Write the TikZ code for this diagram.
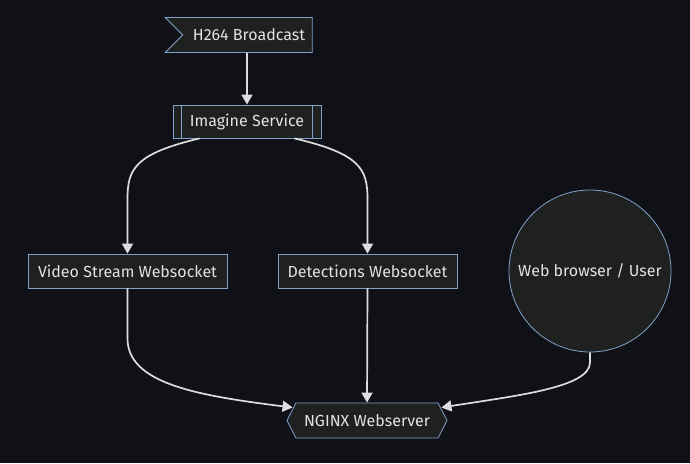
\documentclass[tikz,border=0pt]{standalone}
\usepackage{fontspec}
\setmainfont{Fira Sans}
\usetikzlibrary{shapes.symbols,arrows.meta,calc}
\definecolor{bg}{HTML}{0F1117}
\definecolor{nfill}{HTML}{1F2020}
\definecolor{nborder}{HTML}{7FA3C8}
\definecolor{ntext}{HTML}{E2E2E2}
\definecolor{edgecol}{HTML}{DDDDDD}
\begin{document}
\begin{tikzpicture}[x=1pt,y=-1pt,
  base/.style={draw=nborder,fill=nfill,text=ntext,line width=0.8pt,font=\fontsize{16}{19}\selectfont,inner sep=0pt,minimum height=35pt},
  boxnode/.style={base,rectangle},
  flagnode/.style={base,signal,signal from=west,signal to=nothing,signal pointer angle=90,minimum width=147pt},
  hexnode/.style={base,signal,signal to=east and west,signal pointer angle=126,minimum width=160pt},
  circnode/.style={base,circle,minimum size=162pt},
  edge/.style={draw=edgecol,line width=1.7pt,-{Triangle[length=10pt,width=11pt]}}]
\fill[bg] (0,0) rectangle (690,463);
\useasboundingbox (0,0) rectangle (690,463);

\node[flagnode] (h264) at (247.5,35) {\hspace*{3pt}H264 Broadcast};
\node[boxnode,minimum width=148pt,minimum height=33pt] (img) at (247,121.5) {Imagine Service};
\draw[nborder,line width=0.8pt] ([xshift=9pt]img.north west) -- ([xshift=9pt]img.south west)
  ([xshift=-9pt]img.north east) -- ([xshift=-9pt]img.south east);
\node[boxnode,minimum width=199pt,minimum height=34pt] (vid) at (127.5,271) {Video Stream Websocket};
\node[boxnode,minimum width=179pt,minimum height=34pt] (det) at (367.5,271) {Detections Websocket};
\node[circnode] (user) at (590,271) {Web browser / User};
\node[hexnode] (ngx) at (367,420.5) {NGINX Webserver};

\draw[edge] (h264.south -| img.north) -- (img.north);
\draw[edge] ([xshift=27pt]img.south west) .. controls ($(vid.north)+(8,-100)$) and ($(vid.north)+(0,-85)$) .. ($(vid.north)+(0,-55)$) -- (vid.north);
\draw[edge] ([xshift=-27pt]img.south east) .. controls ($(det.north)+(-8,-100)$) and ($(det.north)+(0,-85)$) .. ($(det.north)+(0,-55)$) -- (det.north);
\draw[edge] (vid.south) -- ($(vid.south)+(0,50)$) .. controls ($(vid.south)+(0,95)$) and ($(ngx.west)+(-90,-25)$) .. ([shift={(6,-13)}]ngx.west);
\draw[edge] (det.south) -- (ngx.north);
\draw[edge] (user.south) -- ($(user.south)+(0,10)$) .. controls ($(user.south)+(0,35)$) and ($(ngx.east)+(70,-25)$) .. ([shift={(-6,-13)}]ngx.east);
\end{tikzpicture}
\end{document}
